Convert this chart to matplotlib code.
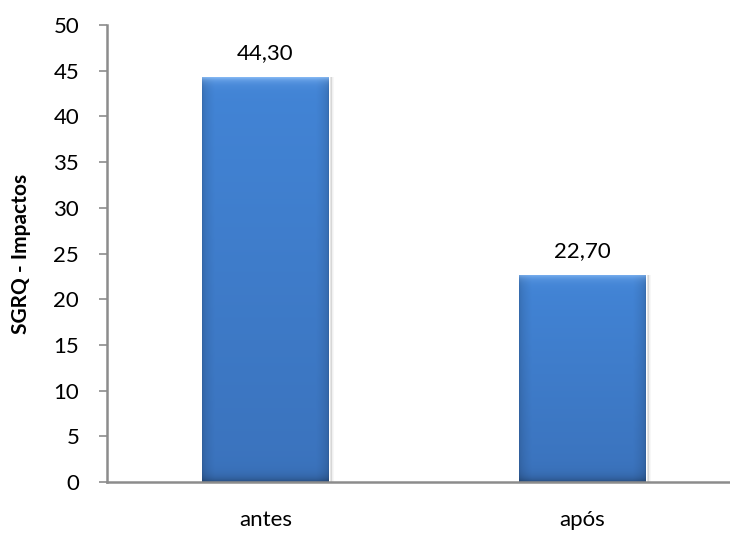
import matplotlib
matplotlib.use("Agg")
import matplotlib.pyplot as plt
import numpy as np

# SGRQ impact scores before/after
categorias = ["antes", "após"]
valores = [44.30, 22.70]
yticks = [0, 5, 10, 15, 20, 25, 30, 35, 40, 45, 50]

plt.rcParams['font.family'] = ['Lato', 'DejaVu Sans']

fig = plt.figure(figsize=(7.30, 5.36), dpi=100)
ax = fig.add_axes([107 / 730, 54 / 536, 623 / 730, 457 / 536])

x = np.arange(len(categorias))
largura = 0.40
barras = ax.bar(x, valores, width=largura, color="#3F7DCF", zorder=2)


def bevel_image(h_px, w_px):
    # vertical shading: slightly darker towards bottom
    top = np.array([0.26, 0.52, 0.84])
    bot = np.array([0.23, 0.45, 0.74])
    t = np.linspace(0, 1, h_px)[:, None, None]
    img = top * (1 - t) + bot * t
    img = np.broadcast_to(img, (h_px, w_px, 3)).copy()
    # darker sides
    xs = np.linspace(0, 1, w_px)
    side = np.minimum(xs, 1 - xs)
    edge = np.clip(side / 0.10, 0, 1) ** 0.5
    img *= (0.82 + 0.18 * edge)[None, :, None]
    # light strip at the top edge
    ys = np.arange(h_px)
    strip = np.exp(-ys / 4.0)[:, None, None]
    img = img + (np.array([0.62, 0.80, 1.0]) - img) * strip * 0.7
    # dark strip at the bottom edge
    strip_b = np.exp(-(h_px - 1 - ys) / 5.0)[:, None, None]
    img = img * (1 - 0.3 * strip_b)
    return np.clip(img, 0, 1)


for b in barras:
    bx, by = b.get_x(), b.get_y()
    bw, bh = b.get_width(), b.get_height()
    # soft shadow on the right side
    for k, a in enumerate([0.10, 0.06, 0.03]):
        ax.bar(bx + bw + 0.004 * (k + 1), bh, width=0.005, bottom=by, align="edge",
               color="black", alpha=a, zorder=1, linewidth=0)
    img = bevel_image(int(bh * 9) + 10, 127)
    im = ax.imshow(img, extent=[bx, bx + bw, by, by + bh], aspect="auto",
                   zorder=3, interpolation="bilinear")
    im.set_clip_path(b)

for xi, v in zip(x, valores):
    ax.text(xi, v + 1.5, f"{v:.2f}".replace(".", ","), ha="center", va="bottom",
            fontsize=16, color="black", zorder=4)

ax.set_xlim(-0.5, 1.5 - 11 / 317)
ax.set_ylim(0, 50)
ax.set_yticks(yticks)
ax.set_xticks(x)
ax.set_xticklabels(categorias)
ax.tick_params(axis="y", direction="out", length=6, width=1.2, color="#8C8C8C",
               labelsize=16, pad=14)
ax.tick_params(axis="x", length=0, labelsize=16, pad=20)

for s in ["top", "right"]:
    ax.spines[s].set_visible(False)
for s in ["left", "bottom"]:
    ax.spines[s].set_color("#8C8C8C")
    ax.spines[s].set_linewidth(1.8)
ax.spines["bottom"].set_zorder(5)

ax.set_ylabel("SGRQ - Impactos", fontsize=15, fontweight="bold", labelpad=16)

fig.savefig("out.png", dpi=100)
